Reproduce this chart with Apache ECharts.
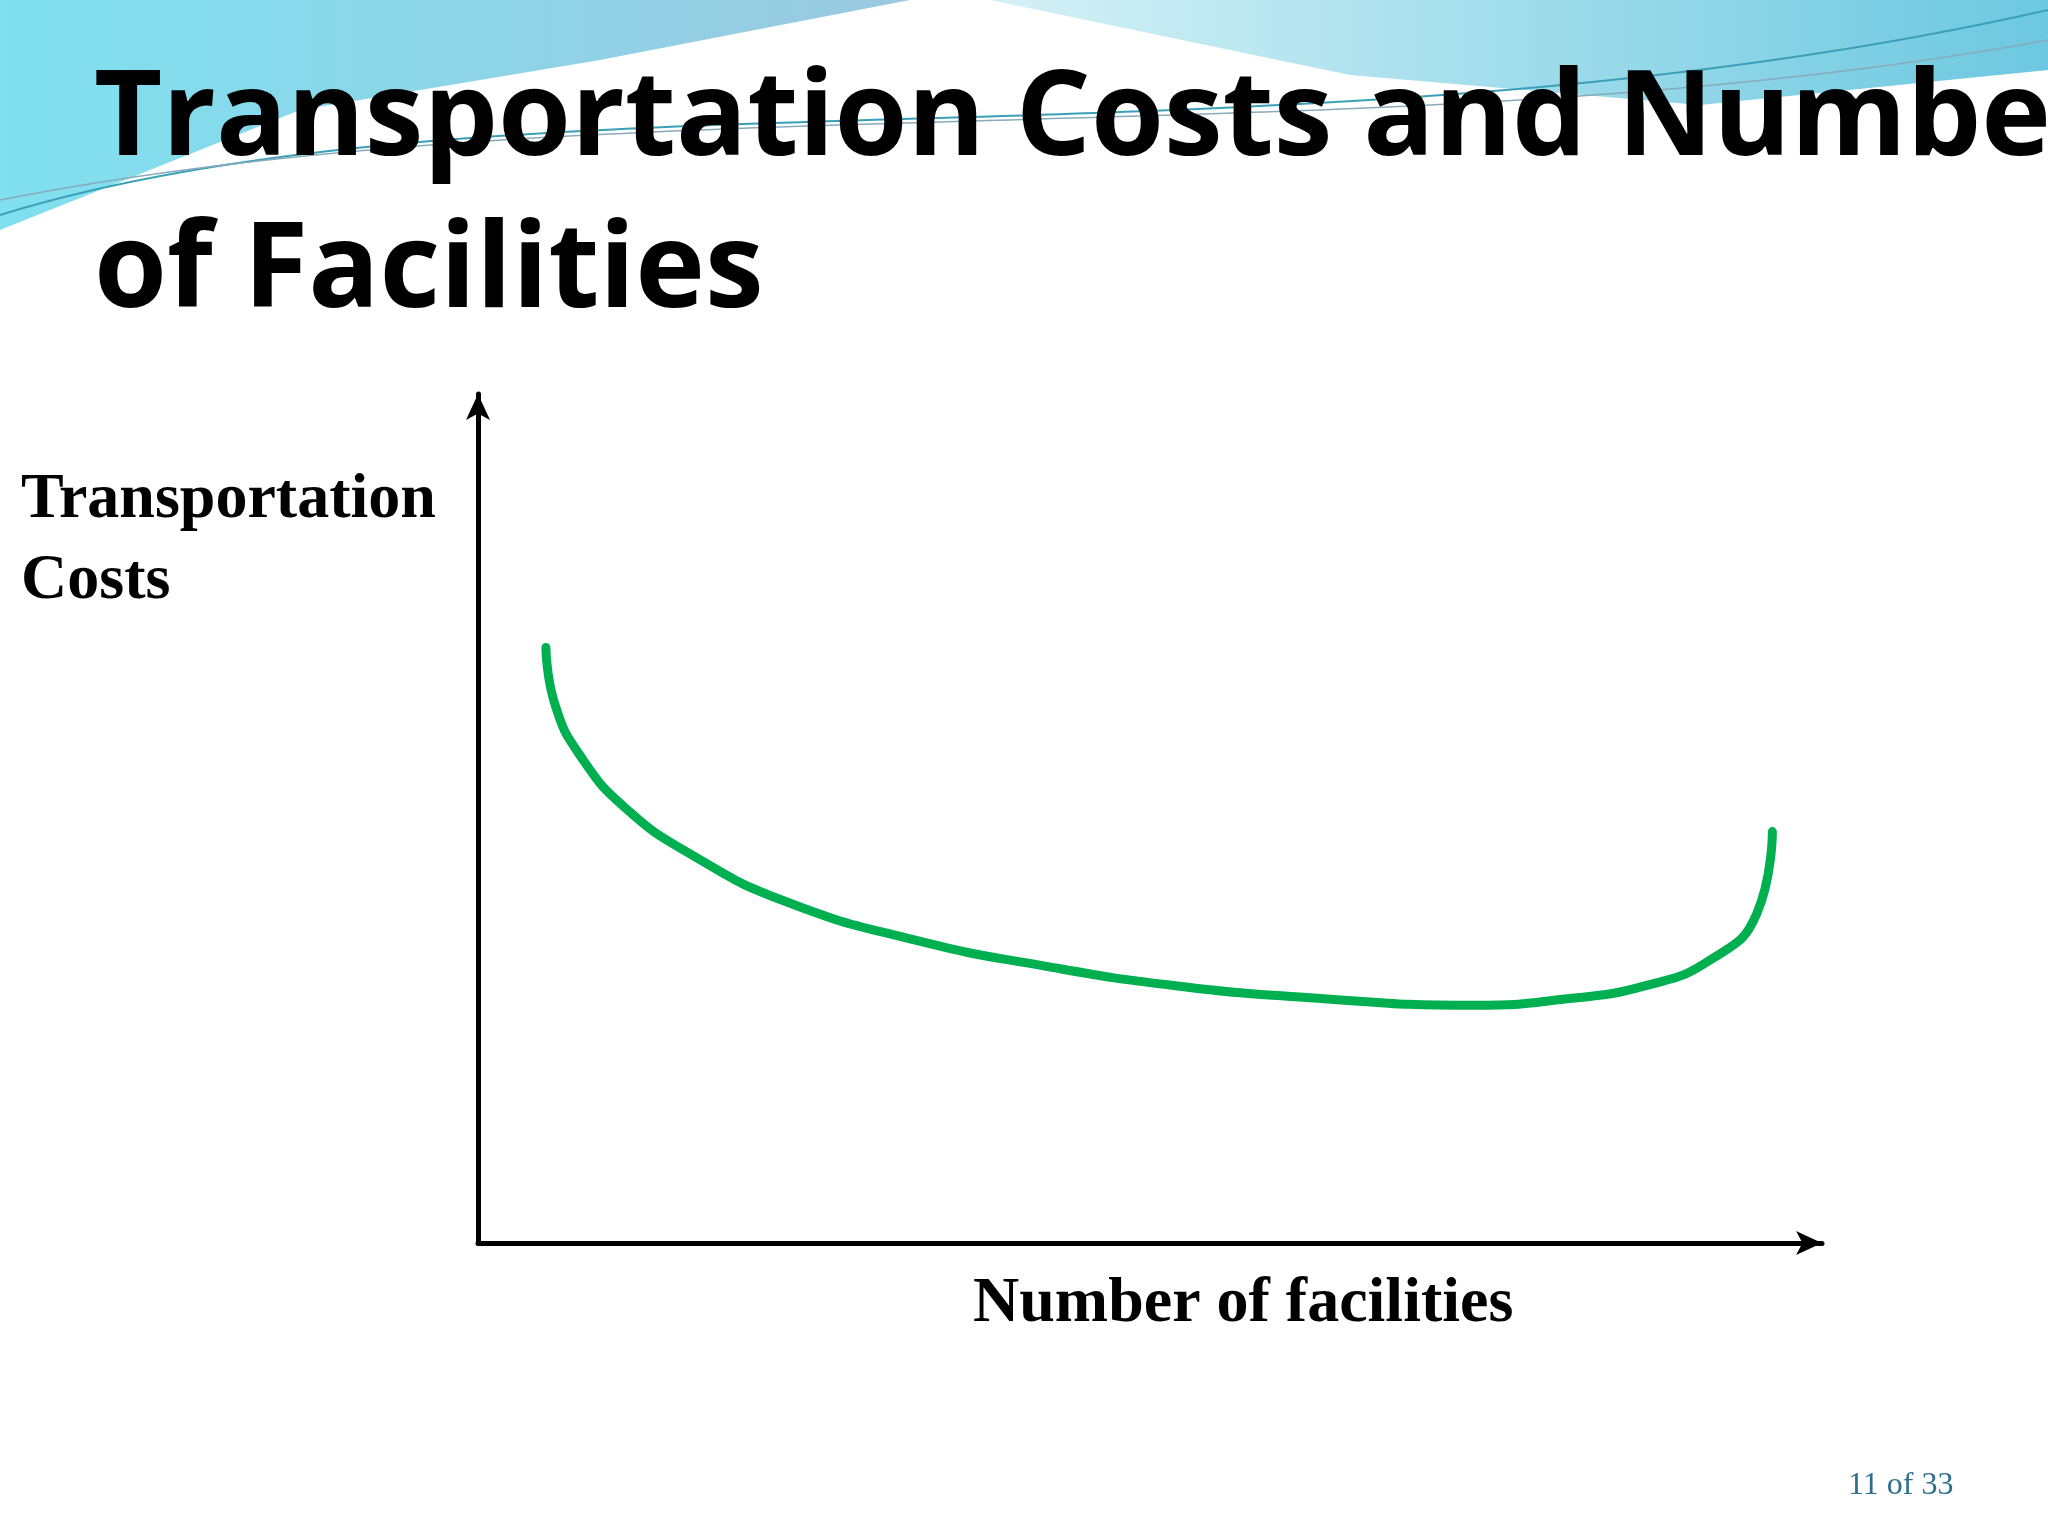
<!DOCTYPE html>
<html>
<head>
<meta charset="utf-8">
<script src="https://cdn.jsdelivr.net/npm/echarts@6/dist/echarts.min.js"></script>
<style>html,body{margin:0;padding:0;background:#fff}#chart{width:2048px;height:1536px}</style>
</head>
<body>
<div id="chart"></div>
<script>
// curve (x: facilities, y: cost), arbitrary units
var facilities = [52, 59, 79, 114, 164, 234, 334, 434, 534, 634, 764, 834, 894, 944, 979, 991];
var costs = [456, 412, 372, 332, 297, 262, 232, 212, 197, 188, 182, 187, 197, 217, 252, 315];

var points = [];
for (var i = 0; i < facilities.length; i++) {
    points.push([facilities[i], costs[i]]);
}

var chart = echarts.init(document.getElementById('chart'));
chart.setOption({
    backgroundColor: '#fff',
    animation: false,
    grid: { left: 478, right: 226, top: 394, bottom: 293 },
    xAxis: {
        type: 'value', min: 0, max: 1029,
        axisLine: { lineStyle: { color: '#000', width: 5 }, symbol: ['none', 'arrow'], symbolSize: [18, 26] },
        axisTick: { show: false }, axisLabel: { show: false }, splitLine: { show: false }
    },
    yAxis: {
        type: 'value', min: 0, max: 650,
        axisLine: { show: true, lineStyle: { color: '#000', width: 5 }, symbol: ['none', 'arrow'], symbolSize: [18, 26] },
        axisTick: { show: false }, axisLabel: { show: false }, splitLine: { show: false }
    },
    graphic: [
        { type: 'polygon', z: -1, shape: { points: [[0, 0], [910, 0], [600, 60], [300, 110], [0, 230]] },
          style: { fill: { type: 'linear', x: 0, y: 0, x2: 1, y2: 0, colorStops: [{ offset: 0, color: '#7fe0ef' }, { offset: 1, color: '#9ac9e0' }] } } },
        { type: 'polygon', z: -1, shape: { points: [[990, 0], [2048, 0], [2048, 70], [1700, 105], [1350, 75]] },
          style: { fill: { type: 'linear', x: 0, y: 0, x2: 1, y2: 0, colorStops: [{ offset: 0, color: '#d5f1f6' }, { offset: 1, color: '#6cc8e0' }] } } },
        { type: 'bezierCurve', z: -1, shape: { x1: 0, y1: 215, cpx1: 500, cpy1: 60, cpx2: 1300, cpy2: 180, x2: 2048, y2: 10 },
          style: { fill: null, stroke: '#3aa0b8', lineWidth: 2 } },
        { type: 'bezierCurve', z: -1, shape: { x1: 0, y1: 200, cpx1: 600, cpy1: 80, cpx2: 1400, cpy2: 160, x2: 2048, y2: 40 },
          style: { fill: null, stroke: '#88aabb', lineWidth: 1.5 } },
        { type: 'text', left: 94, top: 62, style: { text: 'Transportation Costs and Number', font: 'bold 118px "Open Sans"', fill: '#000' } },
        { type: 'text', left: 94, top: 214, style: { text: 'of Facilities', font: 'bold 118px "Open Sans"', fill: '#000' } },
        { type: 'text', left: 21, top: 460, style: { text: 'Transportation\nCosts', font: 'bold 64px "Liberation Serif"', lineHeight: 81, fill: '#000' } },
        { type: 'text', left: 973, top: 1272, style: { text: 'Number of facilities', font: 'bold 64px "Liberation Serif"', fill: '#000' } },
        { type: 'text', left: 1848, top: 1470, style: { text: '11 of 33', font: '32px "Liberation Serif"', fill: '#2e6e8e' } }
    ],
    series: [{
        type: 'line',
        data: points,
        smooth: 0.5,
        showSymbol: false,
        lineStyle: { color: '#00b050', width: 9, cap: 'round' }
    }]
});
</script>
</body>
</html>
